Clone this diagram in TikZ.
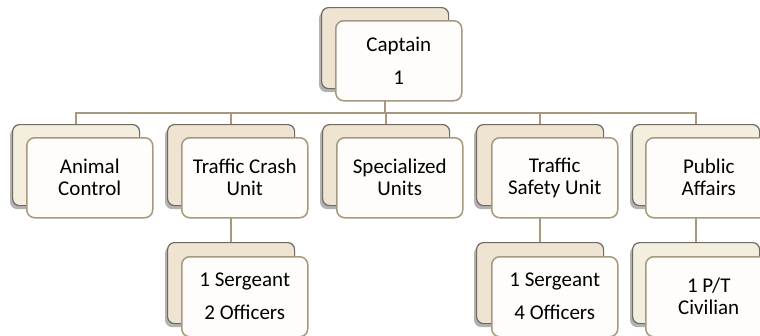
\documentclass[tikz,border=0pt]{standalone}
\usepackage{fontspec}
\setmainfont{Carlito}
\usetikzlibrary{shadows,backgrounds}
\definecolor{myTan}{HTML}{A8997C}
\definecolor{boxGray}{HTML}{6E6A66}
\definecolor{beigeA}{HTML}{EFE3D2}
\definecolor{creamA}{HTML}{F3EEDD}
\definecolor{frontFill}{HTML}{FEFDFC}
\begin{document}
\begin{tikzpicture}[x=1pt,y=-1pt,
  backbox/.style={draw=boxGray, line width=1.2pt, fill=#1, rounded corners=7pt,
    minimum width=127pt, minimum height=81pt, anchor=north west, inner sep=0pt,
    drop shadow={shadow xshift=-2.5pt, shadow yshift=-3.5pt, opacity=.6}},
  backbox/.default=beigeA,
  frontbox/.style={draw=myTan, line width=1.5pt, fill=frontFill, rounded corners=8pt,
    minimum width=126pt, minimum height=80pt, anchor=north west, align=center,
    inner sep=0pt, font={\fontsize{21}{22}\selectfont}},
  loose/.style={font={\fontsize{21}{33}\selectfont}},
  conn/.style={draw=myTan, line width=2.4pt}]
\useasboundingbox (0,0) rectangle (760,335);
\clip (0,0) rectangle (760,335);
\coordinate (bus) at (0,113);
% top
\node[backbox] (capB) at (321,7) {};
\node[frontbox,loose] (capF) at (335,20) {Captain\\1};
% second row
\node[backbox=creamA] (animB) at (12,124) {};
\node[frontbox] (animF) at (26,137) {Animal\\Control};
\node[backbox] (crashB) at (167,124) {};
\node[frontbox] (crashF) at (181,137) {Traffic Crash\\Unit};
\node[backbox] (specB) at (322,124) {};
\node[frontbox] (specF) at (336,137) {Specialized\\Units};
\node[backbox] (safeB) at (476,124) {};
\node[frontbox] (safeF) at (491,137) {Traffic\\Safety Unit};
\node[backbox=creamA] (pubB) at (632,124) {};
\node[frontbox] (pubF) at (645,137) {Public\\Affairs};
% third row
\node[backbox] (crashSB) at (167,242) {};
\node[frontbox,loose] (crashSF) at (181,256) {1 Sergeant\\2 Officers};
\node[backbox] (safeSB) at (476,242) {};
\node[frontbox,loose] (safeSF) at (491,256) {1 Sergeant\\4 Officers};
\node[backbox=creamA] (pubSB) at (632,242) {};
\node[frontbox] (pubSF) at (645,256) {1 P/T\\Civilian};
\begin{scope}[on background layer]
  \fill[white] (0,0) rectangle (760,335);
  \draw[conn] (capB.south) -- (capB.south |- bus);
  \draw[conn] (animB.north) -- (animB.north |- bus) -- (pubB.north |- bus) -- (pubB.north);
  \foreach \n in {crashB,specB,safeB}
    \draw[conn] (\n.north |- bus) -- (\n.north);
  \draw[conn] (crashB.south) -- (crashSB.north);
  \draw[conn] (safeB.south) -- (safeSB.north);
  \draw[conn] (pubB.south) -- (pubSB.north);
\end{scope}
\end{tikzpicture}
\end{document}
